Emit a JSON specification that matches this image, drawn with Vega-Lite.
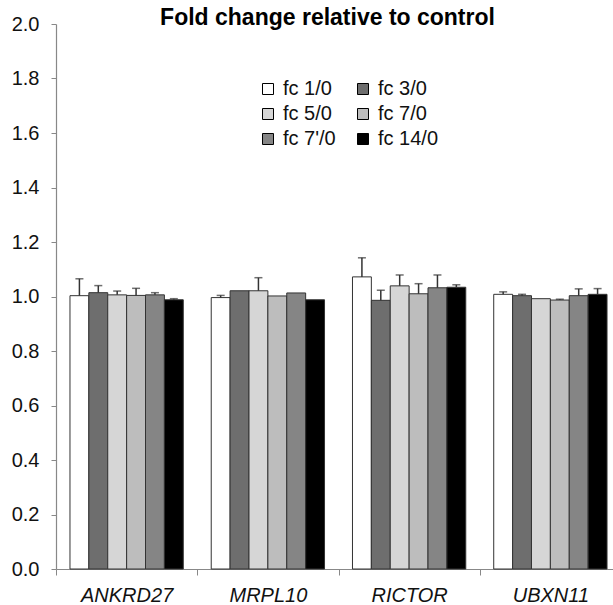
{
  "$schema": "https://vega.github.io/schema/vega-lite/v6.json",
  "autosize": {"type": "none"},
  "width": 557,
  "height": 545,
  "padding": {"left": 56, "top": 24, "right": 0, "bottom": 36},
  "background": "white",
  "title": {
    "text": "Fold change relative to control",
    "font": "Liberation Sans",
    "fontSize": 23,
    "fontWeight": "bold",
    "color": "#000000",
    "anchor": "middle",
    "dx": -7,
    "dy": 32,
    "baseline": "alphabetic",
    "offset": -2
  },
  "config": {
    "view": {"stroke": null},
    "font": "Liberation Sans"
  },
  "data": {
    "values": [
      {"gene": "ANKRD27", "series": "fc 1/0", "value": 1.003, "upper": 1.065},
      {"gene": "ANKRD27", "series": "fc 3/0", "value": 1.014, "upper": 1.040},
      {"gene": "ANKRD27", "series": "fc 5/0", "value": 1.006, "upper": 1.020},
      {"gene": "ANKRD27", "series": "fc 7/0", "value": 1.004, "upper": 1.030},
      {"gene": "ANKRD27", "series": "fc 7'/0", "value": 1.006, "upper": 1.014},
      {"gene": "ANKRD27", "series": "fc 14/0", "value": 0.988, "upper": 0.992},
      {"gene": "MRPL10", "series": "fc 1/0", "value": 0.996, "upper": 1.004},
      {"gene": "MRPL10", "series": "fc 3/0", "value": 1.021, "upper": 1.021},
      {"gene": "MRPL10", "series": "fc 5/0", "value": 1.021, "upper": 1.069},
      {"gene": "MRPL10", "series": "fc 7/0", "value": 1.002, "upper": 1.002},
      {"gene": "MRPL10", "series": "fc 7'/0", "value": 1.013, "upper": 1.013},
      {"gene": "MRPL10", "series": "fc 14/0", "value": 0.988, "upper": 0.988},
      {"gene": "RICTOR", "series": "fc 1/0", "value": 1.072, "upper": 1.142},
      {"gene": "RICTOR", "series": "fc 3/0", "value": 0.986, "upper": 1.023},
      {"gene": "RICTOR", "series": "fc 5/0", "value": 1.039, "upper": 1.079},
      {"gene": "RICTOR", "series": "fc 7/0", "value": 1.010, "upper": 1.047},
      {"gene": "RICTOR", "series": "fc 7'/0", "value": 1.032, "upper": 1.079},
      {"gene": "RICTOR", "series": "fc 14/0", "value": 1.034, "upper": 1.043},
      {"gene": "UBXN11", "series": "fc 1/0", "value": 1.008, "upper": 1.017},
      {"gene": "UBXN11", "series": "fc 3/0", "value": 1.003, "upper": 1.008},
      {"gene": "UBXN11", "series": "fc 5/0", "value": 0.992, "upper": 0.992},
      {"gene": "UBXN11", "series": "fc 7/0", "value": 0.987, "upper": 0.990},
      {"gene": "UBXN11", "series": "fc 7'/0", "value": 1.003, "upper": 1.028},
      {"gene": "UBXN11", "series": "fc 14/0", "value": 1.008, "upper": 1.029}
    ]
  },
  "encoding": {
    "x": {
      "field": "gene",
      "type": "nominal",
      "sort": ["ANKRD27", "MRPL10", "RICTOR", "UBXN11"],
      "scale": {"range": [0, 565], "paddingInner": 0, "paddingOuter": 0},
      "axis": {
        "title": null,
        "labelAngle": 0,
        "labelFont": "Liberation Sans",
        "labelFontSize": 20,
        "labelFontStyle": "italic",
        "labelColor": "#111111",
        "labelPadding": 10,
        "tickBand": "extent",
        "tickSize": 6,
        "tickColor": "#888888",
        "domainColor": "#888888",
        "domainWidth": 1.2,
        "grid": false
      }
    },
    "xOffset": {
      "field": "series",
      "type": "nominal",
      "sort": ["fc 1/0", "fc 3/0", "fc 5/0", "fc 7/0", "fc 7'/0", "fc 14/0"],
      "scale": {"paddingInner": 0, "paddingOuter": 0.74}
    }
  },
  "layer": [
    {
      "mark": {"type": "bar", "stroke": "#333333", "strokeWidth": 1},
      "encoding": {
        "y": {
          "field": "value",
          "type": "quantitative",
          "scale": {"domain": [0, 2], "nice": false},
          "axis": {
            "title": null,
            "values": [0, 0.2, 0.4, 0.6, 0.8, 1.0, 1.2, 1.4, 1.6, 1.8, 2.0],
            "format": ".1f",
            "labelFont": "Liberation Sans",
            "labelFontSize": 20,
            "labelColor": "#111111",
            "labelPadding": 12,
            "tickSize": 5,
            "tickColor": "#888888",
            "domainColor": "#888888",
            "domainWidth": 1.2,
            "grid": false
          }
        },
        "fill": {
          "field": "series",
          "type": "nominal",
          "sort": ["fc 1/0", "fc 3/0", "fc 5/0", "fc 7/0", "fc 7'/0", "fc 14/0"],
          "scale": {"range": ["#ffffff", "#6e6e6e", "#d6d6d6", "#bdbdbd", "#858585", "#000000"]},
          "legend": {
            "title": null,
            "orient": "none",
            "legendX": 202,
            "legendY": 55,
            "direction": "horizontal",
            "columns": 2,
            "columnPadding": 17,
            "rowPadding": 5,
            "symbolType": "square",
            "symbolSize": 121,
            "symbolStrokeColor": "#000000",
            "symbolStrokeWidth": 1,
            "labelFont": "Liberation Sans",
            "labelFontSize": 20,
            "labelColor": "#111111",
            "labelOffset": 5
          }
        }
      }
    },
    {
      "mark": {"type": "rule", "color": "#333333", "strokeWidth": 1.5},
      "encoding": {
        "y": {"field": "value", "type": "quantitative"},
        "y2": {"field": "upper"}
      }
    },
    {
      "transform": [{"filter": "datum.upper > datum.value"}],
      "mark": {"type": "tick", "color": "#333333", "size": 8, "thickness": 1.5, "orient": "horizontal"},
      "encoding": {
        "y": {"field": "upper", "type": "quantitative"}
      }
    }
  ]
}
